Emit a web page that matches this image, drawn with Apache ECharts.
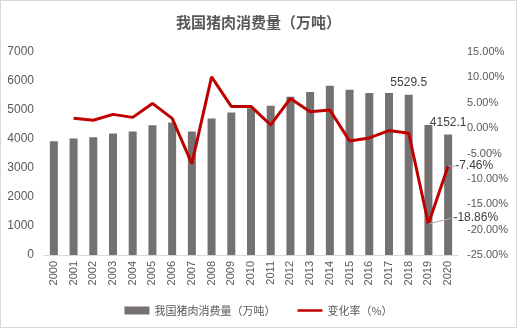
<!DOCTYPE html>
<html><head><meta charset="utf-8">
<script src="https://cdn.jsdelivr.net/npm/echarts@6/dist/echarts.min.js"></script>
<style>
html,body{margin:0;padding:0;background:#fff;}
#c{width:517px;height:328px;box-sizing:border-box;border:1px solid #d9d9d9;}
</style></head><body>
<div id="c"></div>
<script>
const years = ['2000','2001','2002','2003','2004','2005','2006','2007','2008','2009','2010','2011','2012','2013','2014','2015','2016','2017','2018','2019','2020'];
const consumption = [3920, 4020, 4060, 4190, 4260, 4470, 4565, 4260, 4705, 4910, 5060, 5150, 5455, 5625, 5835, 5700, 5590, 5585, 5529.5, 4486.6, 4152.1];
const changeRate = [null, 1.93, 1.54, 2.71, 2.12, 4.87, 1.93, -7.00, 10.10, 4.28, 4.28, 0.62, 5.85, 3.24, 3.56, -2.52, -1.93, -0.49, -1.00, -18.86, -7.46];
const barLabelYears = ['2018', '2020'];
const rateLabelYears = ['2019', '2020'];
const leftTicks = {min: 0, max: 7000, interval: 1000};
const rightTicks = {min: -25, max: 15, interval: 5};

const FONT = '"Liberation Sans", "Noto Sans CJK SC", sans-serif';
const CJK = '"Noto Sans CJK SC", "Noto Sans", sans-serif';
const chart = echarts.init(document.getElementById('c'), null, {renderer: 'canvas'});

const barData = consumption.map((v, i) => barLabelYears.includes(years[i])
  ? {value: v, label: {show: true, position: 'top', distance: 6, color: '#404040', fontSize: 12, fontFamily: FONT, formatter: p => String(p.value)}}
  : v);
const lineData = changeRate.map((v, i) => rateLabelYears.includes(years[i])
  ? {value: v, label: {show: true, position: 'right', distance: 7, color: '#404040', fontSize: 12, fontFamily: FONT, formatter: p => p.value.toFixed(2) + '%'}}
  : v);

chart.setOption({
  animation: false,
  textStyle: {fontFamily: FONT},
  title: {
    text: '我国猪肉消费量（万吨）', left: 'center', top: 9,
    textStyle: {fontSize: 15, fontWeight: 'bold', color: '#595959', fontFamily: CJK}
  },
  grid: {left: 43, right: 58, top: 51, bottom: 72},
  legend: {
    bottom: 6, left: 'center', itemGap: 22, itemWidth: 25, itemHeight: 8,
    textStyle: {fontSize: 11, color: '#595959', fontFamily: CJK},
    data: [
      {name: '我国猪肉消费量（万吨）', icon: 'rect'},
      {name: '变化率（%）', icon: 'path://M0,0 L30,0 L30,3 L0,3 Z'}
    ]
  },
  xAxis: {
    type: 'category', data: years,
    axisLine: {lineStyle: {color: '#d9d9d9'}},
    axisTick: {show: false},
    axisLabel: {rotate: 90, color: '#595959', fontSize: 11, interval: 0, margin: 6, fontFamily: FONT}
  },
  yAxis: [
    {type: 'value', min: leftTicks.min, max: leftTicks.max, interval: leftTicks.interval,
     splitLine: {show: false}, axisLine: {show: false}, axisTick: {show: false},
     axisLabel: {color: '#595959', fontSize: 12, margin: 10, fontFamily: FONT, formatter: v => String(v)}},
    {type: 'value', min: rightTicks.min, max: rightTicks.max, interval: rightTicks.interval,
     splitLine: {show: false}, axisLine: {show: false}, axisTick: {show: false},
     axisLabel: {color: '#595959', fontSize: 11, margin: 9, fontFamily: FONT, formatter: v => v.toFixed(2) + '%'}}
  ],
  series: [
    {name: '我国猪肉消费量（万吨）', type: 'bar', data: barData, barWidth: 8,
     itemStyle: {color: '#767171'}},
    {name: '变化率（%）', type: 'line', yAxisIndex: 1, data: lineData,
     symbol: 'circle', symbolSize: 0, showSymbol: true, connectNulls: false,
     lineStyle: {color: '#c00000', width: 3}, itemStyle: {color: '#c00000'},
     labelLine: {show: true, lineStyle: {color: '#a6a6a6', width: 1}},
     labelLayout: p => p.dataIndex === years.indexOf('2019') ? {dx: 18, dy: -6} : {}
    }
  ]
});
</script></body></html>
